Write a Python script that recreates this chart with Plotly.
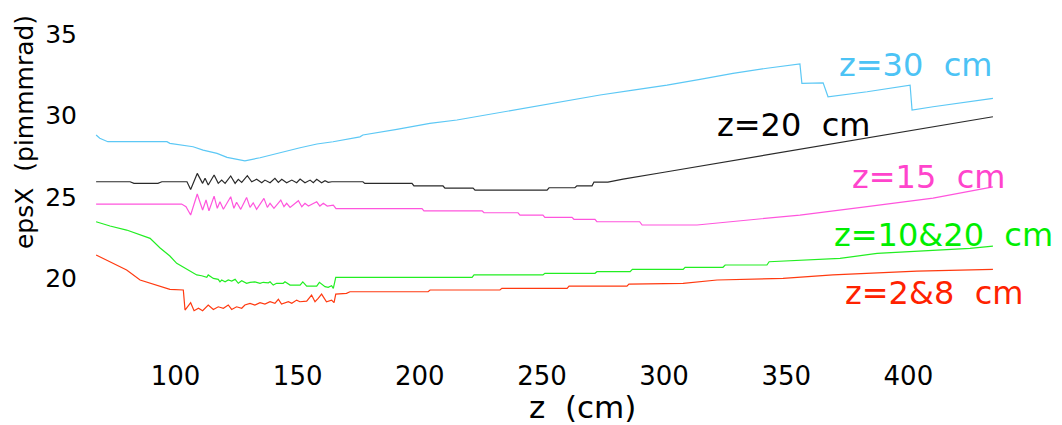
import plotly.graph_objects as go

# ---- data (z in cm, epsX in pi mm mrad) ----
z_cyan = [67.5, 69.0, 72.3, 96.5, 97.7, 101.8, 107.2, 111.3, 117.0, 121.1, 125.2, 128.4,
          134.6, 139.9, 145.7, 151.0, 157.9, 164.5, 175.5, 176.7, 190.6, 204.1, 215.2,
          230.0, 245.0, 260.0, 273.8, 287.3, 301.2, 314.7, 328.2, 342.1, 355.6, 356.4,
          365.1, 367.1, 383.1, 400.7, 401.5, 410.1, 424.0, 434.6]
eps_cyan = [28.80, 28.60, 28.39, 28.39, 28.29, 28.19, 28.08, 27.88, 27.68, 27.43, 27.31, 27.22,
            27.41, 27.62, 27.82, 28.02, 28.25, 28.39, 28.69, 28.80, 29.15, 29.51, 29.72,
            30.11, 30.50, 30.89, 31.25, 31.55, 31.86, 32.21, 32.58, 32.89, 33.15, 31.96,
            32.00, 31.14, 31.45, 31.86, 30.33, 30.53, 30.84, 31.05]

z_black = [67.5, 81.4, 83.0, 92.8, 94.4, 104.7, 106.2, 108.9, 111.1, 112.1, 113.4, 115.8,
           117.5, 118.9, 120.3, 122.6, 124.4, 125.7, 127.1, 129.4, 131.2, 133.2, 135.3,
           136.6, 138.7, 140.7, 142.1, 143.5, 145.5, 147.6, 149.6, 151.0, 153.0, 155.1,
           156.4, 157.8, 159.8, 161.2, 162.5, 164.0, 176.7, 177.5, 196.8, 197.6, 209.5,
           210.3, 221.8, 222.6, 252.1, 252.9, 263.5, 264.3, 270.5, 271.3, 277.0, 283.2,
           300.0, 320.0, 340.0, 360.0, 380.0, 400.0, 420.0, 434.6]
eps_black = [25.94, 25.94, 25.84, 25.84, 25.94, 25.94, 25.47, 26.45, 25.84, 26.15, 25.74, 26.35,
             25.84, 26.04, 25.84, 26.29, 25.84, 26.09, 25.90, 26.31, 25.94, 26.09, 25.88,
             26.04, 25.88, 26.15, 25.90, 26.09, 25.88, 26.04, 25.88, 26.10, 25.88, 26.04,
             25.88, 26.09, 25.88, 26.00, 25.90, 25.94, 25.94, 25.84, 25.84, 25.68, 25.68,
             25.55, 25.55, 25.43, 25.43, 25.57, 25.57, 25.69, 25.69, 25.92, 25.92, 26.10,
             26.52, 27.03, 27.54, 28.04, 28.55, 29.05, 29.55, 29.92]

z_mag = [67.5, 102.5, 104.3, 106.2, 108.9, 111.1, 112.5, 113.7, 115.8, 117.1, 118.2, 119.6,
         122.6, 123.9, 125.0, 126.7, 129.1, 130.5, 131.8, 133.2, 136.2, 137.6, 138.7, 140.3,
         143.1, 144.4, 145.5, 146.9, 150.3, 151.7, 153.0, 154.4, 157.8, 159.1, 160.5, 162.1,
         164.6, 165.7, 200.9, 201.7, 225.5, 226.3, 240.2, 241.0, 250.4, 251.2, 262.3, 263.1,
         271.7, 272.5, 290.0, 291.0, 313.5, 328.2, 355.6, 383.1, 410.1, 434.6]
eps_mag = [24.57, 24.57, 24.41, 23.90, 25.19, 24.21, 24.82, 24.16, 25.06, 24.31, 24.71, 24.25,
           25.02, 24.31, 24.68, 24.25, 24.98, 24.37, 24.65, 24.25, 24.92, 24.37, 24.62, 24.31,
           24.82, 24.41, 24.62, 24.37, 24.78, 24.41, 24.62, 24.45, 24.71, 24.45, 24.62, 24.45,
           24.51, 24.29, 24.29, 24.16, 24.16, 24.04, 24.04, 23.90, 23.90, 23.76, 23.76, 23.64,
           23.64, 23.49, 23.49, 23.29, 23.29, 23.49, 23.90, 24.41, 24.94, 25.63]

z_green = [67.5, 73.2, 80.0, 85.5, 89.6, 93.7, 97.7, 100.5, 104.6, 108.7, 110.7, 112.8,
           113.4, 115.5, 117.5, 118.2, 118.9, 120.3, 121.6, 123.0, 124.4, 125.7, 127.1,
           129.1, 130.5, 132.5, 134.6, 135.9, 138.0, 138.7, 140.0, 141.4, 144.1, 144.8,
           146.9, 151.0, 152.1, 153.7, 157.8, 158.9, 161.2, 162.5, 163.9, 164.6, 165.6,
           221.4, 222.2, 250.4, 251.2, 271.7, 272.5, 286.1, 287.0, 307.8, 308.6, 324.1,
           325.0, 342.1, 343.0, 372.0, 387.2, 425.2, 434.6]
eps_green = [23.49, 23.23, 22.98, 22.67, 22.47, 21.88, 21.39, 20.94, 20.57, 20.23, 20.18, 20.08,
             20.23, 20.02, 19.96, 19.81, 19.92, 19.81, 19.92, 19.86, 19.96, 19.72, 19.88,
             19.72, 19.78, 19.81, 19.72, 19.78, 19.75, 19.81, 19.61, 19.72, 19.72, 19.81,
             19.61, 19.61, 19.81, 19.55, 19.55, 19.78, 19.51, 19.47, 19.57, 19.41, 20.08,
             20.08, 20.23, 20.23, 20.33, 20.33, 20.43, 20.43, 20.57, 20.57, 20.70, 20.70,
             20.84, 20.84, 21.04, 21.25, 21.55, 21.86, 22.00]

z_red = [67.5, 73.2, 80.0, 85.5, 89.6, 93.7, 97.7, 103.2, 103.9, 106.2, 107.6, 109.4,
         111.1, 113.4, 115.5, 117.5, 119.6, 121.6, 123.0, 125.0, 127.1, 128.4, 130.5, 132.5,
         134.6, 136.6, 138.7, 140.7, 142.1, 143.4, 144.8, 146.2, 147.6, 149.6, 150.9, 153.7,
         155.7, 157.1, 158.4, 159.8, 161.8, 163.9, 164.9, 165.6, 170.0, 171.4, 203.4, 204.2,
         232.8, 233.6, 260.3, 261.1, 284.8, 285.6, 307.8, 321.7, 348.7, 369.1, 403.5, 434.6]
eps_red = [21.45, 21.04, 20.53, 19.92, 19.72, 19.51, 19.35, 19.31, 18.08, 18.53, 18.04, 18.19,
           18.04, 18.39, 18.12, 18.28, 18.19, 18.39, 18.12, 18.28, 18.19, 18.39, 18.49, 18.39,
           18.53, 18.45, 18.59, 18.49, 18.74, 18.45, 18.53, 18.59, 18.49, 18.69, 18.59, 18.63,
           19.00, 18.59, 18.80, 19.06, 18.59, 18.69, 18.53, 19.06, 19.10, 19.20, 19.20, 19.31,
           19.31, 19.41, 19.41, 19.55, 19.55, 19.67, 19.72, 19.92, 20.02, 20.23, 20.47, 20.57]

x_ticks = [100, 150, 200, 250, 300, 350, 400]
y_ticks = [20, 25, 30, 35]

labels = ["z=30  cm", "z=20  cm", "z=15  cm", "z=10&20  cm", "z=2&8  cm"]

FONT = "DejaVu Sans"

series = [
    (z_cyan, eps_cyan, "#5cc8f5", "#4cc3f5"),
    (z_black, eps_black, "#2a2a2a", "#000000"),
    (z_mag, eps_mag, "#ff55dd", "#ff44cc"),
    (z_green, eps_green, "#22ee22", "#00ee00"),
    (z_red, eps_red, "#ff3a10", "#ff2200"),
]

fig = go.Figure()
for (zx, ey, lc, _), name in zip(series, labels):
    fig.add_trace(go.Scatter(x=zx, y=ey, mode="lines", name=name,
                             line=dict(color=lc, width=1.2), showlegend=False))

# label positions (paper coords)
label_pos = [(0.9066, 0.8116), (0.7731, 0.6377), (0.9209, 0.4870), (0.9379, 0.3188), (0.9275, 0.1507)]
for (zx, ey, _, tc), name, (px, py) in zip(series, labels, label_pos):
    fig.add_annotation(text=name, x=px, y=py, xref="paper", yref="paper",
                       xanchor="center", yanchor="middle", showarrow=False,
                       font=dict(family=FONT, size=32, color=tc))

fig.add_annotation(text="z  (cm)", x=0.5407, y=-0.179, xref="paper", yref="paper",
                   xanchor="center", yanchor="middle", showarrow=False,
                   font=dict(family=FONT, size=31, color="black"))
fig.add_annotation(text="epsX  (pimmmrad)", x=-0.0714, y=0.6174, xref="paper", yref="paper",
                   xanchor="center", yanchor="middle", showarrow=False, textangle=-90,
                   font=dict(family=FONT, size=25, color="black"))

fig.update_layout(
    width=1062, height=425,
    margin=dict(l=90, r=62, t=0, b=80),
    paper_bgcolor="white", plot_bgcolor="white",
    xaxis=dict(range=[65.0, 437.5], tickvals=x_ticks, showgrid=False, zeroline=False,
               showline=False, ticks="", ticklabelstandoff=13,
               tickfont=dict(family=FONT, size=26, color="black")),
    yaxis=dict(range=[15.94, 37.07], tickvals=y_ticks, showgrid=False, zeroline=False,
               showline=False, ticks="", ticklabelstandoff=12,
               tickfont=dict(family=FONT, size=25, color="black")),
)

fig.write_html("out.html")
